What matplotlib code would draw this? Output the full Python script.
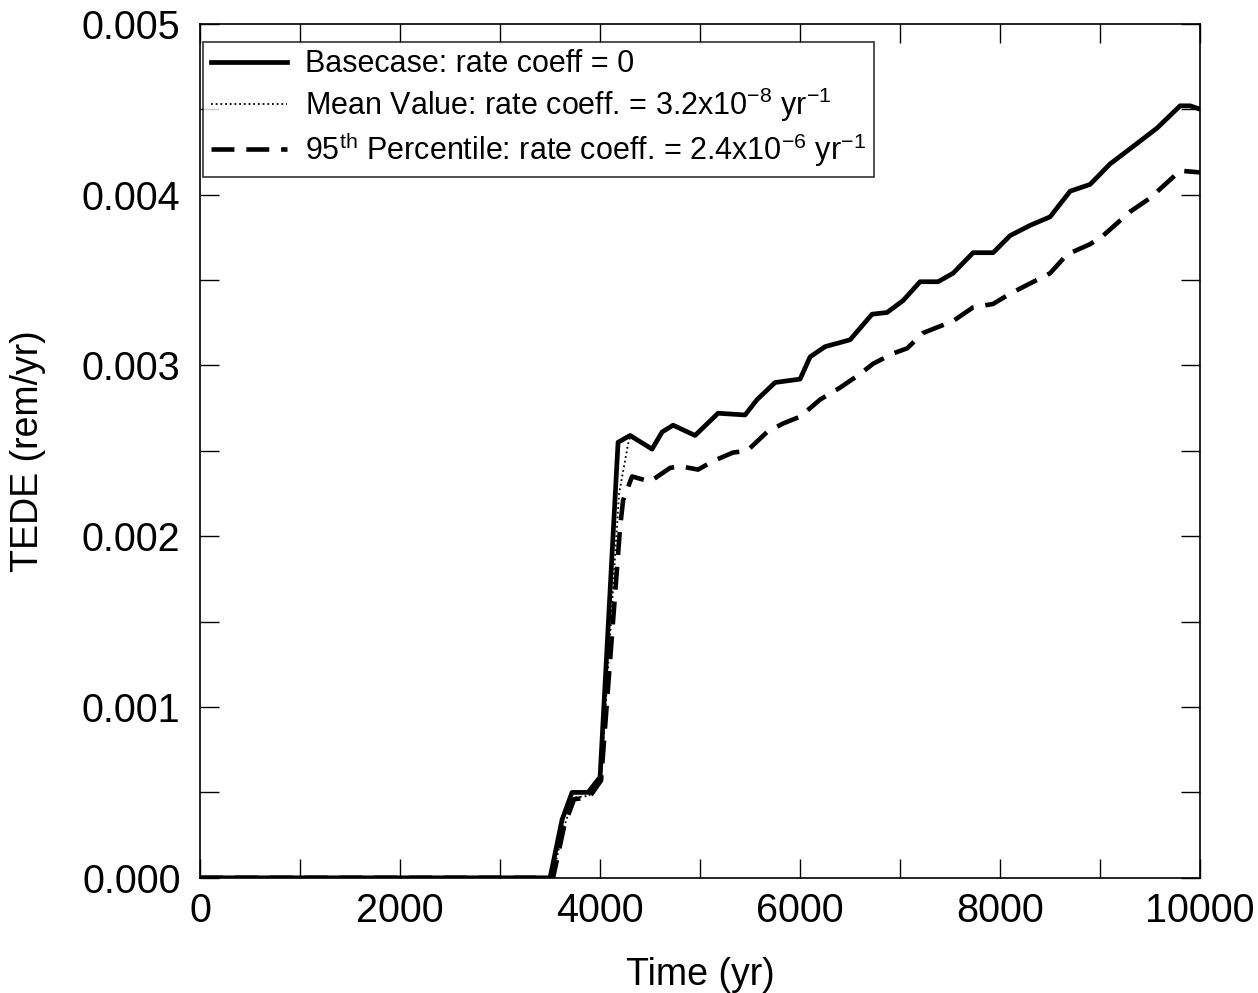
import matplotlib
matplotlib.use("Agg")
import matplotlib.pyplot as plt
from matplotlib.ticker import MultipleLocator

plt.rcParams['font.family'] = ['Liberation Sans', 'DejaVu Sans']
plt.rcParams['mathtext.fontset'] = 'custom'
plt.rcParams['mathtext.rm'] = 'Liberation Sans'
plt.rcParams['mathtext.it'] = 'Liberation Sans'
plt.rcParams['mathtext.bf'] = 'Liberation Sans'

# basecase, rate coeff = 0
t_base = [0, 3500, 3620, 3720, 3880, 4000, 4180, 4300, 4520, 4620, 4730, 4950, 5180, 5450,
          5570, 5750, 6000, 6100, 6250, 6500, 6720, 6870, 7030, 7200, 7380, 7530, 7730,
          7930, 8100, 8300, 8500, 8700, 8900, 9100, 9370, 9570, 9800, 9900, 10000]
d_base = [0, 0, 0.00034, 0.00050, 0.00050, 0.00059, 0.00255, 0.00259, 0.00251, 0.00261,
          0.00265, 0.00259, 0.00272, 0.00271, 0.00280, 0.00290, 0.00292, 0.00305, 0.00311,
          0.00315, 0.00330, 0.00331, 0.00338, 0.00349, 0.00349, 0.00354, 0.00366, 0.00366,
          0.00376, 0.00382, 0.00387, 0.00402, 0.00406, 0.00418, 0.00430, 0.00439, 0.00452,
          0.00452, 0.00450]

# mean value, rate coeff = 3.2e-8
t_mean = [0, 3520, 3640, 3740, 3890, 4010, 4190, 4280, 4300, 4520, 4620, 4730, 4950, 5180,
          5450, 5570, 5750, 6000, 6100, 6250, 6500, 6720, 6870, 7030, 7200, 7380, 7530,
          7730, 7930, 8100, 8300, 8500, 8700, 8900, 9100, 9370, 9570, 9800, 9900, 10000]
d_mean = [0, 0, 0.00030, 0.00047, 0.00048, 0.00058, 0.00225, 0.00254, 0.00258, 0.00251,
          0.00261, 0.00265, 0.00259, 0.00272, 0.00271, 0.00280, 0.00290, 0.00292, 0.00305,
          0.00311, 0.00315, 0.00330, 0.00331, 0.00338, 0.00349, 0.00349, 0.00354, 0.00366,
          0.00366, 0.00376, 0.00382, 0.00387, 0.00402, 0.00406, 0.00418, 0.00430, 0.00439,
          0.00452, 0.00452, 0.00450]

# 95th percentile, rate coeff = 2.4e-6
t_p95 = [0, 3530, 3640, 3740, 3890, 4010, 4200, 4230, 4320, 4500, 4700, 4800, 4980, 5130,
         5330, 5470, 5670, 5830, 6000, 6200, 6400, 6600, 6730, 6930, 7070, 7230, 7530,
         7730, 7930, 8100, 8400, 8500, 8670, 8900, 9030, 9300, 9500, 9800, 10000]
d_p95 = [0, 0, 0.00030, 0.00046, 0.00047, 0.00057, 0.00205, 0.00221, 0.00235, 0.00232,
         0.00240, 0.00241, 0.00239, 0.00244, 0.00249, 0.00250, 0.00261, 0.00266, 0.00270,
         0.00280, 0.00287, 0.00295, 0.00301, 0.00307, 0.00310, 0.00319, 0.00326, 0.00334,
         0.00336, 0.00342, 0.00351, 0.00354, 0.00365, 0.00371, 0.00376, 0.00390, 0.00398,
         0.00414, 0.00413]

labels = ["Basecase: rate coeff = 0",
          r"Mean Value: rate coeff. = 3.2x10$^{-8}$ yr$^{-1}$",
          r"95$^{\mathrm{th}}$ Percentile: rate coeff. = 2.4x10$^{-6}$ yr$^{-1}$"]

fig = plt.figure(figsize=(12.58, 9.93), dpi=100)
ax = fig.add_axes([0.159, 0.116, 0.795, 0.860])

ax.plot(t_p95, d_p95, color='black', lw=3.3, dashes=(5, 2.6), label=labels[2])
ax.plot(t_mean, d_mean, color='black', lw=1.3, ls=(0, (1, 1.6)), label=labels[1])
ax.plot(t_base, d_base, color='black', lw=3.4, label=labels[0])

ax.set_xlim(0, 10000)
ax.set_ylim(0, 0.005)
ax.xaxis.set_major_locator(MultipleLocator(2000))
ax.xaxis.set_minor_locator(MultipleLocator(1000))
ax.yaxis.set_major_locator(MultipleLocator(0.001))
ax.yaxis.set_minor_locator(MultipleLocator(0.0005))
ax.yaxis.set_major_formatter(plt.FuncFormatter(lambda v, p: f"{v:.3f}"))
ax.tick_params(which='both', direction='in', top=True, right=True, length=14, width=1)
ax.tick_params(which='major', labelsize=28.5)
ax.tick_params(axis='y', which='major', pad=14)
ax.tick_params(axis='x', which='major', pad=10)
for s in ax.spines.values():
    s.set_linewidth(1.2)

ax.set_xlabel("Time (yr)", fontsize=27, labelpad=20)
ax.set_ylabel("TEDE (rem/yr)", fontsize=27, labelpad=26)

h, l = ax.get_legend_handles_labels()
leg = ax.legend(h[::-1], l[::-1], loc='upper left', bbox_to_anchor=(0.003, 0.979),
                fontsize=22, frameon=True, fancybox=False, edgecolor='black',
                borderaxespad=0, handlelength=2.5, handletextpad=0.6,
                labelspacing=0.2, borderpad=0.25)
leg.get_frame().set_linewidth(1.2)

fig.savefig("out.png", dpi=100)
